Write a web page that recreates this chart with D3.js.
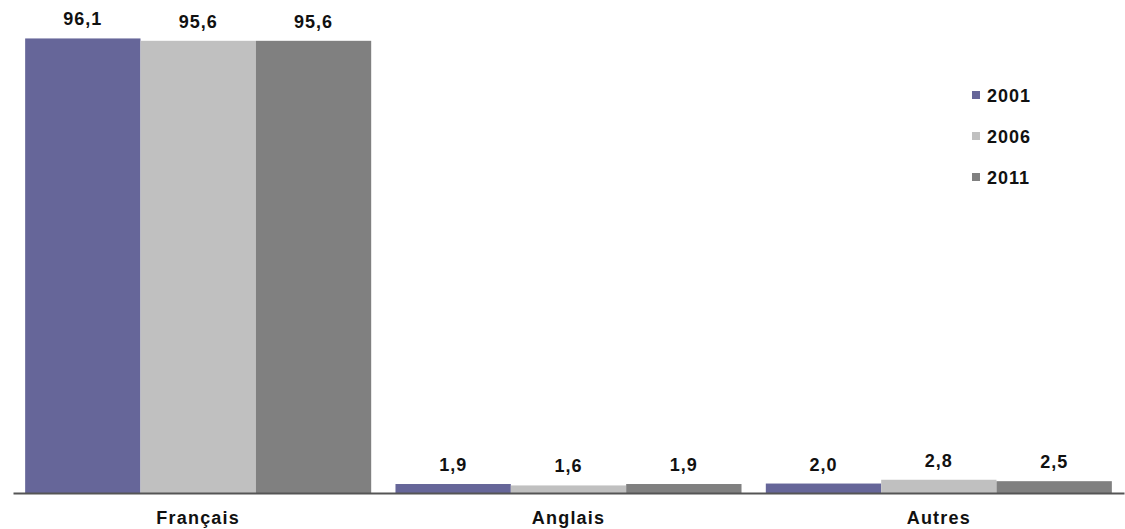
<!DOCTYPE html>
<html>
<head>
<meta charset="utf-8">
<script src="https://cdn.jsdelivr.net/npm/d3@7"></script>
<style>
  html, body { margin: 0; padding: 0; background: #fff; }
  svg { display: block; }
  text { font-family: "Liberation Sans", Arial, sans-serif; font-weight: bold; fill: #111; }
</style>
</head>
<body>
<script>
const categories = ["Français", "Anglais", "Autres"];
const years = ["2001", "2006", "2011"];
const values2001 = [96.1, 1.9, 2.0];
const values2006 = [95.6, 1.6, 2.8];
const values2011 = [95.6, 1.9, 2.5];
const colors = ["#666699", "#C0C0C0", "#808080"];

const W = 1125, H = 529;
const series = [values2001, values2006, values2011];

const svg = d3.select("body").append("svg").attr("width", W).attr("height", H);

const x0 = d3.scaleBand().domain(categories).range([13, 1124]).paddingInner(0.0656).paddingOuter(0.0328);
const x1 = d3.scaleBand().domain(years).range([0, x0.bandwidth()]).padding(0);
const y = d3.scaleLinear().domain([0, 100]).range([493, 20]);
const fmt = v => d3.format(".1f")(v).replace(".", ",");

const data = [];
categories.forEach((c, i) => years.forEach((yr, j) => data.push({ c, yr, j, v: series[j][i] })));

svg.append("g").selectAll("rect").data(data).join("rect")
  .attr("x", d => x0(d.c) + x1(d.yr))
  .attr("width", x1.bandwidth())
  .attr("y", d => y(d.v))
  .attr("height", d => y(0) - y(d.v))
  .attr("fill", d => colors[d.j]);

svg.append("g").selectAll("text").data(data).join("text")
  .attr("x", d => x0(d.c) + x1(d.yr) + x1.bandwidth() / 2)
  .attr("y", d => y(d.v) - 13)
  .attr("text-anchor", "middle")
  .attr("font-size", 18)
  .attr("letter-spacing", 1)
  .text(d => fmt(d.v));

// axis
const axis = d3.axisBottom(x0).tickSize(0).tickPadding(18);
const gx = svg.append("g").attr("transform", `translate(0,${y(0)})`).call(axis);
gx.select(".domain").attr("stroke", "#555").attr("stroke-width", 2);
gx.selectAll("text").attr("font-size", 18).attr("letter-spacing", 1.2)
  .style("font-family", '"Liberation Sans", Arial, sans-serif').style("font-weight", "bold").attr("fill", "#111");

// legend
const lg = svg.append("g").attr("transform", "translate(972,0)");
years.forEach((yr, j) => {
  const cy = 95 + j * 41;
  lg.append("rect").attr("x", 0).attr("y", cy - 4).attr("width", 8).attr("height", 8).attr("fill", colors[j]);
  lg.append("text").attr("x", 15).attr("y", cy + 7).attr("font-size", 18).attr("letter-spacing", 1).text(yr);
});
</script>
</body>
</html>
